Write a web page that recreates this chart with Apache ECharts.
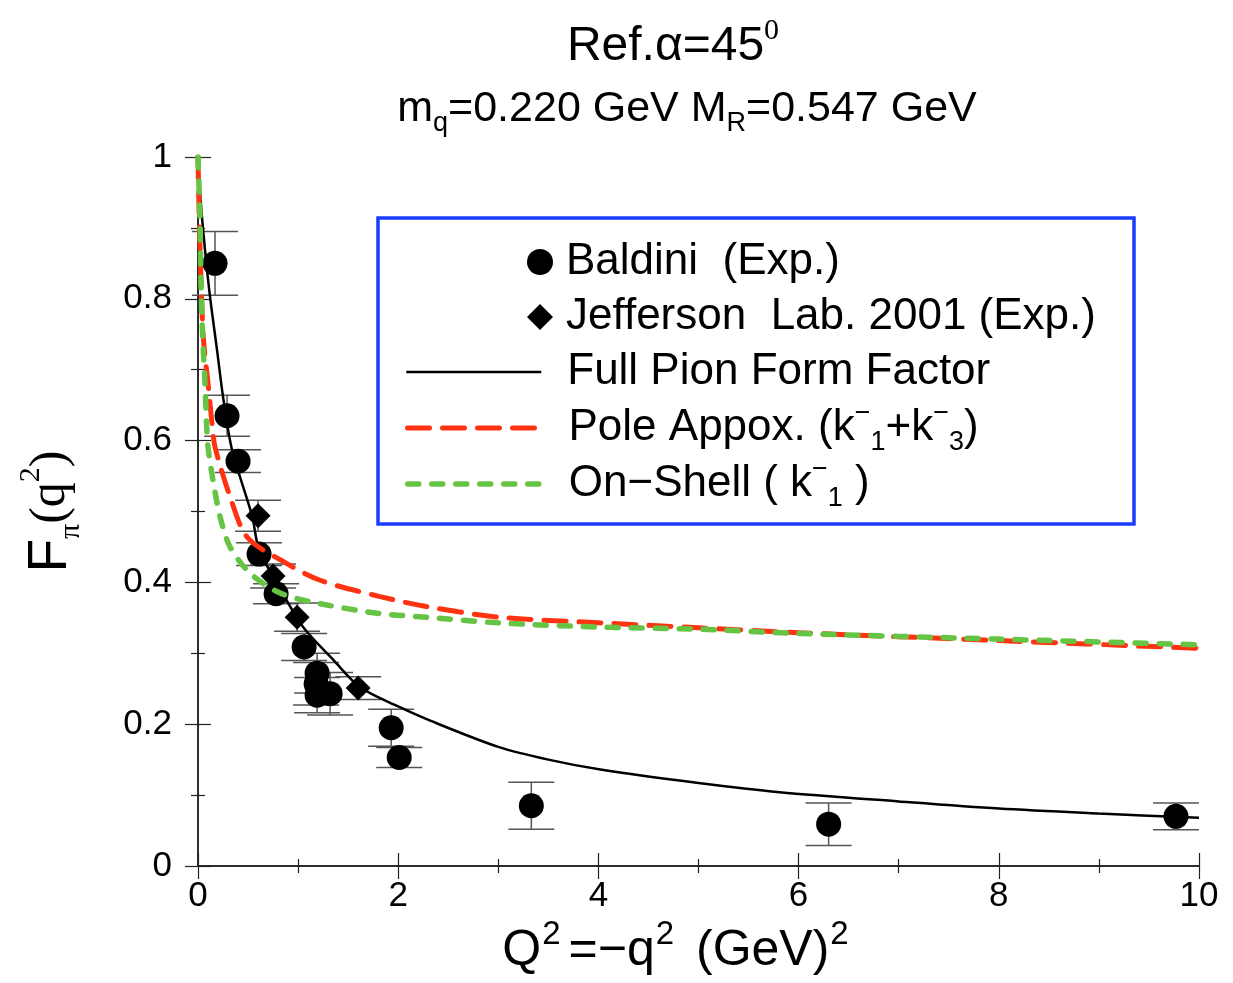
<!DOCTYPE html>
<html>
<head>
<meta charset="utf-8">
<script src="https://cdn.jsdelivr.net/npm/echarts@6/dist/echarts.min.js"></script>
<style>
html, body { margin: 0; padding: 0; background: #fff; }
#chart { width: 1233px; height: 983px; }
</style>
</head>
<body>
<div id="chart"></div>
<script>
// Baldini data points (circles) with symmetric errors
const baldiniQ2 = [0.17, 0.29, 0.40, 0.61, 0.78, 1.06, 1.19, 1.18, 1.19, 1.32, 1.93, 2.01, 3.33, 6.30, 9.77]
const baldiniF = [0.850, 0.635, 0.571, 0.440, 0.384, 0.309, 0.272, 0.257, 0.241, 0.243, 0.195, 0.153, 0.085, 0.059, 0.070]
const baldiniErr = [0.045, 0.029, 0.016, 0.016, 0.014, 0.019, 0.028, 0.030, 0.025, 0.030, 0.026, 0.014, 0.033, 0.030, 0.019]

// Jefferson Lab 2001 (diamonds)
const jlabQ2 = [0.60, 0.75, 0.99, 1.60]
const jlabF = [0.494, 0.409, 0.351, 0.251]
const jlabErr = [0.022, 0.017, 0.020, 0.016]

// full pion form factor
const fullQ2 = [0, 0.02, 0.07, 0.12, 0.19, 0.25, 0.34, 0.54, 0.61, 0.79, 1.05, 1.35, 1.62, 2.0, 2.32, 3.0, 3.5, 4.02, 5.0, 5.81, 7.0, 8.0, 9.0, 10.0]
const fullF = [1.0, 0.949, 0.869, 0.803, 0.728, 0.662, 0.587, 0.494, 0.446, 0.399, 0.337, 0.291, 0.252, 0.225, 0.205, 0.168, 0.150, 0.136, 0.117, 0.104, 0.091, 0.081, 0.074, 0.068]

// pole approximation (k1- + k3-)
const poleQ2 = [0, 0.01, 0.025, 0.053, 0.10, 0.14, 0.17, 0.32, 0.49, 0.82, 1.22, 1.82, 2.28, 3, 4, 5, 6, 8, 10]
const poleF = [1.0, 0.93, 0.85, 0.746, 0.681, 0.624, 0.591, 0.521, 0.464, 0.432, 0.403, 0.380, 0.366, 0.351, 0.343, 0.336, 0.329, 0.318, 0.307]

// on-shell (k1-)
const shellQ2 = [0, 0.02, 0.03, 0.047, 0.07, 0.085, 0.10, 0.15, 0.22, 0.32, 0.52, 0.82, 1.22, 1.82, 2.28, 3, 4, 5, 6, 8, 10]
const shellF = [1.0, 0.915, 0.822, 0.746, 0.681, 0.625, 0.591, 0.544, 0.493, 0.450, 0.413, 0.385, 0.370, 0.356, 0.351, 0.343, 0.337, 0.334, 0.328, 0.320, 0.312]

const zip = (xs, ys) => xs.map((x, i) => [x, ys[i]])
const zipErr = (xs, ys, es) => xs.map((x, i) => [x, ys[i], es[i]])

const chart = echarts.init(document.getElementById('chart'))

const sans = 'Liberation Sans, Arial, Helvetica, sans-serif'
const serif = 'Liberation Serif, Times New Roman, serif'

const errorBars = (params, api) => {
    const x = api.value(0)
    const y = api.value(1)
    const e = api.value(2)
    const top = api.coord([x, y + e])
    const bot = api.coord([x, y - e])
    const hw = 23
    const style = { stroke: '#555', lineWidth: 1.5 }
    return {
        type: 'group',
        children: [
            { type: 'line', shape: { x1: top[0], y1: top[1], x2: bot[0], y2: bot[1] }, style },
            { type: 'line', shape: { x1: top[0] - hw, y1: top[1], x2: top[0] + hw, y2: top[1] }, style },
            { type: 'line', shape: { x1: bot[0] - hw, y1: bot[1], x2: bot[0] + hw, y2: bot[1] }, style }
        ]
    }
}

const legendRich = {
    t: { fontSize: 44, fontFamily: sans, color: '#000', fontWeight: 'normal' },
    sup: { fontSize: 27, fontFamily: sans, color: '#000', verticalAlign: 'top', lineHeight: 26 },
    sub: { fontSize: 27, fontFamily: sans, color: '#000', verticalAlign: 'bottom', lineHeight: 26 }
}
const legendText = {
    'Baldini  (Exp.)': '{t|Baldini  (Exp.)}',
    'Jefferson  Lab. 2001 (Exp.)': '{t|Jefferson  Lab. 2001 (Exp.)}',
    'Full Pion Form Factor': '{t|Full Pion Form Factor}',
    'Pole Appox.': '{t|Pole Appox. (k}{sup|\u2212}{sub|1}{t|+k}{sup|\u2212}{sub|3}{t|)}',
    'On\u2212Shell': '{t|On\u2212Shell ( k}{sup|\u2212}{sub|1}{t| )}'
}

// one legend component per row so every row sits where it does in the figure
const markerLegend = (name, top) => ({
    left: 527, top, padding: 0, itemWidth: 26, itemHeight: 26,
    data: [name],
    formatter: (n) => legendText[n],
    textStyle: { padding: [0, 0, 0, 8], lineHeight: 56, rich: legendRich }
})
const lineLegend = (name, top) => ({
    left: 405, top, padding: 0, itemWidth: 135, itemHeight: 20,
    data: [name],
    itemStyle: { opacity: 0 },
    lineStyle: { width: 'inherit' },
    formatter: (n) => legendText[n],
    textStyle: { padding: [0, 0, 0, 21], lineHeight: 56, rich: legendRich }
})

const axisCommon = {
    type: 'value',
    axisLine: { lineStyle: { color: '#222', width: 1.5 } },
    axisTick: { inside: true, length: 13, lineStyle: { color: '#222', width: 1.2 } },
    minorTick: { show: true, splitNumber: 2, length: 7, lineStyle: { color: '#222', width: 1.2 } },
    splitLine: { show: false }
}

chart.setOption({
    animation: false,
    backgroundColor: '#fff',
    title: [
        {
            text: '{t|Ref.\u03b1=45}{sup|0}',
            left: 668,
            textAlign: 'center',
            top: 11,
            textStyle: {
                rich: {
                    t: { fontSize: 48, fontFamily: sans, color: '#000', fontWeight: 'normal', lineHeight: 62 },
                    sup: { fontSize: 30, fontFamily: serif, color: '#000', fontWeight: 'normal', verticalAlign: 'top', lineHeight: 30 }
                }
            }
        },
        {
            text: '{t|m}{sub|q}{t|=0.220 GeV M}{sub|R}{t|=0.547 GeV}',
            left: 682,
            textAlign: 'center',
            top: 76,
            textStyle: {
                rich: {
                    t: { fontSize: 43, fontFamily: sans, color: '#000', fontWeight: 'normal', lineHeight: 56 },
                    sub: { fontSize: 27, fontFamily: sans, color: '#000', fontWeight: 'normal', verticalAlign: 'bottom', lineHeight: 26 }
                }
            }
        }
    ],
    grid: { left: 198, right: 34, top: 157, bottom: 117, outerBoundsMode: 'none' },
    legend: [
        markerLegend('Baldini  (Exp.)', 234),
        markerLegend('Jefferson  Lab. 2001 (Exp.)', 289),
        lineLegend('Full Pion Form Factor', 344),
        lineLegend('Pole Appox.', 400),
        lineLegend('On\u2212Shell', 456)
    ],
    graphic: [
        {
            type: 'rect',
            shape: { x: 378, y: 218, width: 756, height: 306 },
            style: { fill: 'none', stroke: '#1a3cff', lineWidth: 3.5 },
            z: 50
        }
    ],
    xAxis: [
        Object.assign({}, axisCommon, {
            min: 0, max: 10, interval: 2,
            position: 'bottom',
            axisLabel: { fontSize: 35, fontFamily: sans, color: '#000', margin: 13 },
            name: '{t|Q}{sup|2}{t|=\u2212q}{sup|2}{t| (GeV)}{sup|2}',
            nameLocation: 'middle',
            nameGap: 50,
            nameTextStyle: {
                padding: [0, 38, 0, 0],
                rich: {
                    t: { fontSize: 50, fontFamily: sans, color: '#000', lineHeight: 64 },
                    sup: { fontSize: 33, fontFamily: sans, color: '#000', verticalAlign: 'top', lineHeight: 30, padding: [0, 8, 0, 1] }
                }
            }
        }),
        Object.assign({}, axisCommon, {
            min: 0, max: 10, interval: 2,
            position: 'top',
            axisLabel: { show: false }
        })
    ],
    yAxis: [
        Object.assign({}, axisCommon, {
            min: 0, max: 1, interval: 0.2,
            position: 'left',
            axisLabel: { fontSize: 35, fontFamily: sans, color: '#000', margin: 26 },
            name: '{f|F}{sub|\u03c0}{p|(q}{sup|2}{p|)}',
            nameLocation: 'middle',
            nameRotate: 90,
            nameGap: 112,
            nameTextStyle: {
                rich: {
                    f: { fontSize: 55, fontFamily: sans, color: '#000', lineHeight: 70 },
                    p: { fontSize: 50, fontFamily: serif, color: '#000', lineHeight: 70 },
                    sub: { fontSize: 30, fontFamily: serif, color: '#000', verticalAlign: 'bottom', lineHeight: 30 },
                    sup: { fontSize: 30, fontFamily: serif, color: '#000', verticalAlign: 'top', lineHeight: 30 }
                }
            }
        }),
        Object.assign({}, axisCommon, {
            min: 0, max: 1, interval: 0.2,
            position: 'right',
            axisLabel: { show: false }
        })
    ],
    series: [
        {
            name: 'baldiniErr',
            type: 'custom',
            renderItem: errorBars,
            encode: { x: 0, y: 1 },
            data: zipErr(baldiniQ2, baldiniF, baldiniErr),
            z: 2
        },
        {
            name: 'jlabErr',
            type: 'custom',
            renderItem: errorBars,
            encode: { x: 0, y: 1 },
            data: zipErr(jlabQ2, jlabF, jlabErr),
            z: 2
        },
        {
            name: 'Baldini  (Exp.)',
            type: 'scatter',
            symbol: 'circle',
            symbolSize: 25,
            itemStyle: { color: '#000', opacity: 1 },
            data: zip(baldiniQ2, baldiniF),
            z: 3
        },
        {
            name: 'Jefferson  Lab. 2001 (Exp.)',
            type: 'scatter',
            symbol: 'diamond',
            symbolSize: 25,
            itemStyle: { color: '#000', opacity: 1 },
            data: zip(jlabQ2, jlabF),
            z: 3
        },
        {
            name: 'Full Pion Form Factor',
            type: 'line',
            symbol: 'none',
            smooth: 0.3,
            lineStyle: { color: '#000', width: 2.5 },
            itemStyle: { color: '#000' },
            data: zip(fullQ2, fullF),
            z: 4
        },
        {
            name: 'Pole Appox.',
            type: 'line',
            symbol: 'none',
            smooth: 0.3,
            lineStyle: { color: '#ff3311', width: 5, type: [22, 13], cap: 'round' },
            itemStyle: { color: '#ff3311' },
            data: zip(poleQ2, poleF),
            z: 5
        },
        {
            name: 'On\u2212Shell',
            type: 'line',
            symbol: 'none',
            smooth: 0.3,
            lineStyle: { color: '#66c444', width: 5.5, type: [11, 13], cap: 'round' },
            itemStyle: { color: '#66c444' },
            data: zip(shellQ2, shellF),
            z: 6
        }
    ]
})

window.addEventListener('resize', () => chart.resize())
</script>
</body>
</html>
